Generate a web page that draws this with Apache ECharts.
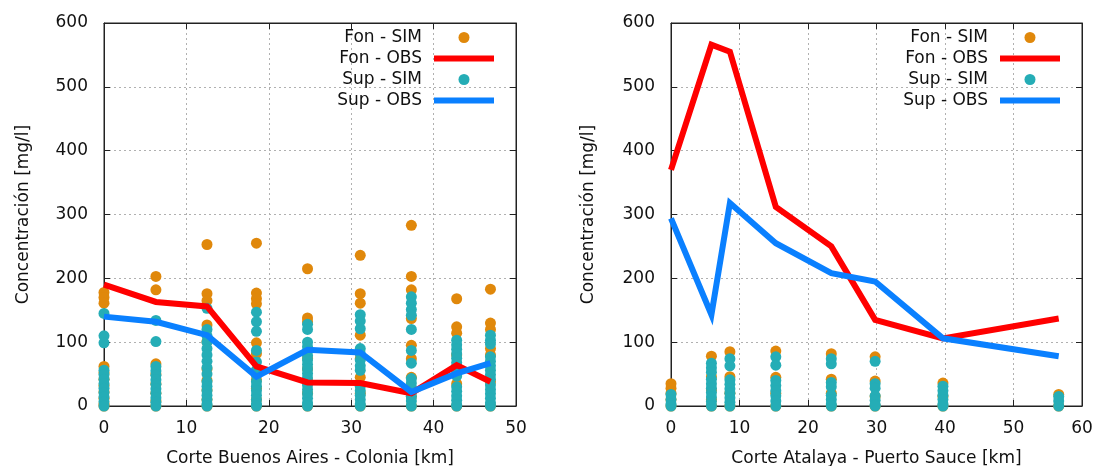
<!DOCTYPE html>
<html>
<head>
<meta charset="utf-8">
<script src="https://cdn.jsdelivr.net/npm/echarts@6/dist/echarts.min.js"></script>
<style>
  html, body { margin: 0; padding: 0; background: #fff; }
  #chart { width: 1101px; height: 466px; }
</style>
</head>
<body>
<div id="chart"></div>
<script>
// Corte Buenos Aires - Colonia: stations (km) and concentrations (mg/l)
const distBA = [0, 6.3, 12.5, 18.5, 24.7, 31.1, 37.3, 42.8, 46.9];
const fonObsBA = [190, 163, 156, 62, 37, 36, 20, 64, 38];
const supObsBA = [140, 132, 111, 46, 88, 84, 22, 51, 67];
const fonSimBA = [
  [178, 170, 161, 62, 52, 42, 32, 22, 12, 3, 0],
  [203, 182, 66, 50, 35, 20, 8, 0],
  [253, 176, 165, 127, 101, 58, 40, 25, 10, 0],
  [255, 177, 168, 160, 99, 82, 55, 41, 28, 10, 0],
  [215, 138, 132, 75, 58, 40, 20, 0],
  [236, 176, 161, 111, 74, 45, 20, 0],
  [283, 203, 182, 137, 95, 74, 45, 15, 0],
  [168, 124, 114, 80, 62, 35, 0],
  [183, 130, 120, 90, 80, 38, 0]
];
const supSimBA = [
  [145, 110, 99, 56, 49, 42, 35, 28, 21, 14, 7, 0],
  [134, 101, 62, 55, 48, 41, 34, 27, 20, 13, 6, 0],
  [153, 120, 110, 100, 90, 80, 70, 60, 50, 38, 31, 24, 17, 10, 3, 0],
  [147, 132, 117, 87, 69, 56, 48, 38, 31, 24, 17, 10, 3, 0],
  [128, 120, 100, 93, 86, 79, 72, 65, 58, 51, 44, 33, 26, 19, 12, 5, 0],
  [143, 133, 121, 90, 82, 72, 63, 56, 31, 24, 17, 10, 3, 0],
  [171, 161, 151, 142, 120, 87, 67, 43, 36, 29, 22, 15, 8, 0],
  [103, 96, 89, 82, 75, 68, 61, 54, 47, 30, 23, 16, 9, 2, 0],
  [111, 103, 97, 77, 70, 63, 56, 49, 42, 33, 26, 19, 12, 5, 0]
];

// Corte Atalaya - Puerto Sauce
const distAP = [0, 5.9, 8.6, 15.3, 23.4, 29.8, 39.7, 56.6];
const fonObsAP = [370, 566, 555, 312, 250, 135, 106, 137];
const supObsAP = [294, 143, 318, 255, 208, 195, 106, 78];
const fonSimAP = [
  [35, 28, 20, 10, 0],
  [78, 46, 25, 10, 0],
  [85, 46, 20, 0],
  [86, 45, 20, 0],
  [82, 42, 20, 0],
  [77, 39, 15, 0],
  [36, 15, 0],
  [18, 0]
];
const supSimAP = [
  [18, 10, 3, 0],
  [67, 60, 53, 42, 35, 28, 21, 14, 7, 0],
  [74, 63, 41, 34, 27, 20, 13, 6, 0],
  [77, 64, 40, 32, 24, 16, 8, 0],
  [74, 66, 37, 30, 17, 10, 3, 0],
  [70, 35, 28, 16, 9, 2, 0],
  [31, 24, 17, 10, 3, 0],
  [15, 8, 0]
];

const xTicksBA = { min: 0, max: 50, interval: 10 };
const xTicksAP = { min: 0, max: 60, interval: 10 };
const yTicks = { min: 0, max: 600, interval: 100 };

const names = ['Fon - SIM', 'Fon - OBS', 'Sup - SIM', 'Sup - OBS'];
const colors = { fonSim: '#e0880b', fonObs: '#ff0000', supSim: '#25adb6', supObs: '#0a80ff' };
const FONT = 'DejaVu Sans';
const FS = 17;

function points(dist, groups) {
  const out = [];
  groups.forEach((vals, i) => vals.forEach(v => out.push([dist[i], v])));
  return out;
}
function line(dist, vals) { return dist.map((d, i) => [d, vals[i]]); }

const gridLine = { show: true, lineStyle: { color: '#b0b0b0', type: [2, 3], width: 1 } };
const axisLine = { show: true, onZero: false, lineStyle: { color: '#222', width: 1 } };
const tick = { show: true, inside: true, length: 6, lineStyle: { color: '#222' } };

function xAxes(gi, t, title) {
  return [
    { type: 'value', gridIndex: gi, ...t, position: 'bottom',
      name: title, nameLocation: 'middle', nameGap: 44,
      nameTextStyle: { fontFamily: FONT, fontSize: FS, color: '#111' },
      axisLine, axisTick: tick, splitLine: gridLine,
      axisLabel: { margin: 14, fontFamily: FONT, fontSize: FS, color: '#111' } },
    { type: 'value', gridIndex: gi, ...t, position: 'top',
      axisLine, axisTick: tick, splitLine: { show: false }, axisLabel: { show: false } }
  ];
}
function yAxes(gi, gap) {
  return [
    { type: 'value', gridIndex: gi, ...yTicks, position: 'left',
      name: 'Concentración [mg/l]', nameLocation: 'middle', nameGap: gap,
      nameTextStyle: { fontFamily: FONT, fontSize: FS, color: '#111' },
      axisLine, axisTick: tick, splitLine: gridLine,
      axisLabel: { margin: 16, fontFamily: FONT, fontSize: FS, color: '#111' } },
    { type: 'value', gridIndex: gi, ...yTicks, position: 'right',
      axisLine, axisTick: tick, splitLine: { show: false }, axisLabel: { show: false } }
  ];
}

function seriesFor(gi, dist, fonSim, fonObs, supSim, supObs) {
  const xi = gi * 2, yi = gi * 2;
  const sc = (name, data, color) => ({
    type: 'scatter', name, xAxisIndex: xi, yAxisIndex: yi, data,
    symbol: 'circle', symbolSize: 11, itemStyle: { color, opacity: 1 },
    silent: true, animation: false
  });
  const ln = (name, data, color) => ({
    type: 'line', name, xAxisIndex: xi, yAxisIndex: yi, data,
    showSymbol: false, symbol: 'none', lineStyle: { color, width: 6, join: 'miter' },
    itemStyle: { color }, silent: true, animation: false
  });
  return [
    sc(names[0], points(dist, fonSim), colors.fonSim),
    ln(names[1], line(dist, fonObs), colors.fonObs),
    sc(names[2], points(dist, supSim), colors.supSim),
    ln(names[3], line(dist, supObs), colors.supObs)
  ];
}

function legendAt(right) {
  const bar = 'path://M0,0L60,0L60,6L0,6Z';
  return {
    orient: 'vertical', align: 'right', right, top: 29, padding: 0,
    itemWidth: 60, itemHeight: 11, itemGap: 4, selectedMode: false,
    textStyle: { fontFamily: FONT, fontSize: FS, color: '#111', padding: [0, 7, 0, 0] },
    data: [
      { name: names[0], icon: 'circle' },
      { name: names[1], icon: bar },
      { name: names[2], icon: 'circle' },
      { name: names[3], icon: bar }
    ]
  };
}

const chart = echarts.init(document.getElementById('chart'), null, { renderer: 'canvas' });
chart.setOption({
  animation: false,
  backgroundColor: '#fff',
  grid: [
    { left: 104, right: 585, top: 23, bottom: 60, show: true, borderColor: '#222', borderWidth: 1,
      containLabel: false, outerBoundsMode: 'none' },
    { left: 671, right: 19, top: 23, bottom: 60, show: true, borderColor: '#222', borderWidth: 1,
      containLabel: false, outerBoundsMode: 'none' }
  ],
  xAxis: [...xAxes(0, xTicksBA, 'Corte Buenos Aires - Colonia [km]'),
          ...xAxes(1, xTicksAP, 'Corte Atalaya - Puerto Sauce [km]')],
  yAxis: [...yAxes(0, 72), ...yAxes(1, 74)],
  legend: [legendAt(607), legendAt(41)],
  series: [
    ...seriesFor(0, distBA, fonSimBA, fonObsBA, supSimBA, supObsBA),
    ...seriesFor(1, distAP, fonSimAP, fonObsAP, supSimAP, supObsAP)
  ]
});
</script>
</body>
</html>
